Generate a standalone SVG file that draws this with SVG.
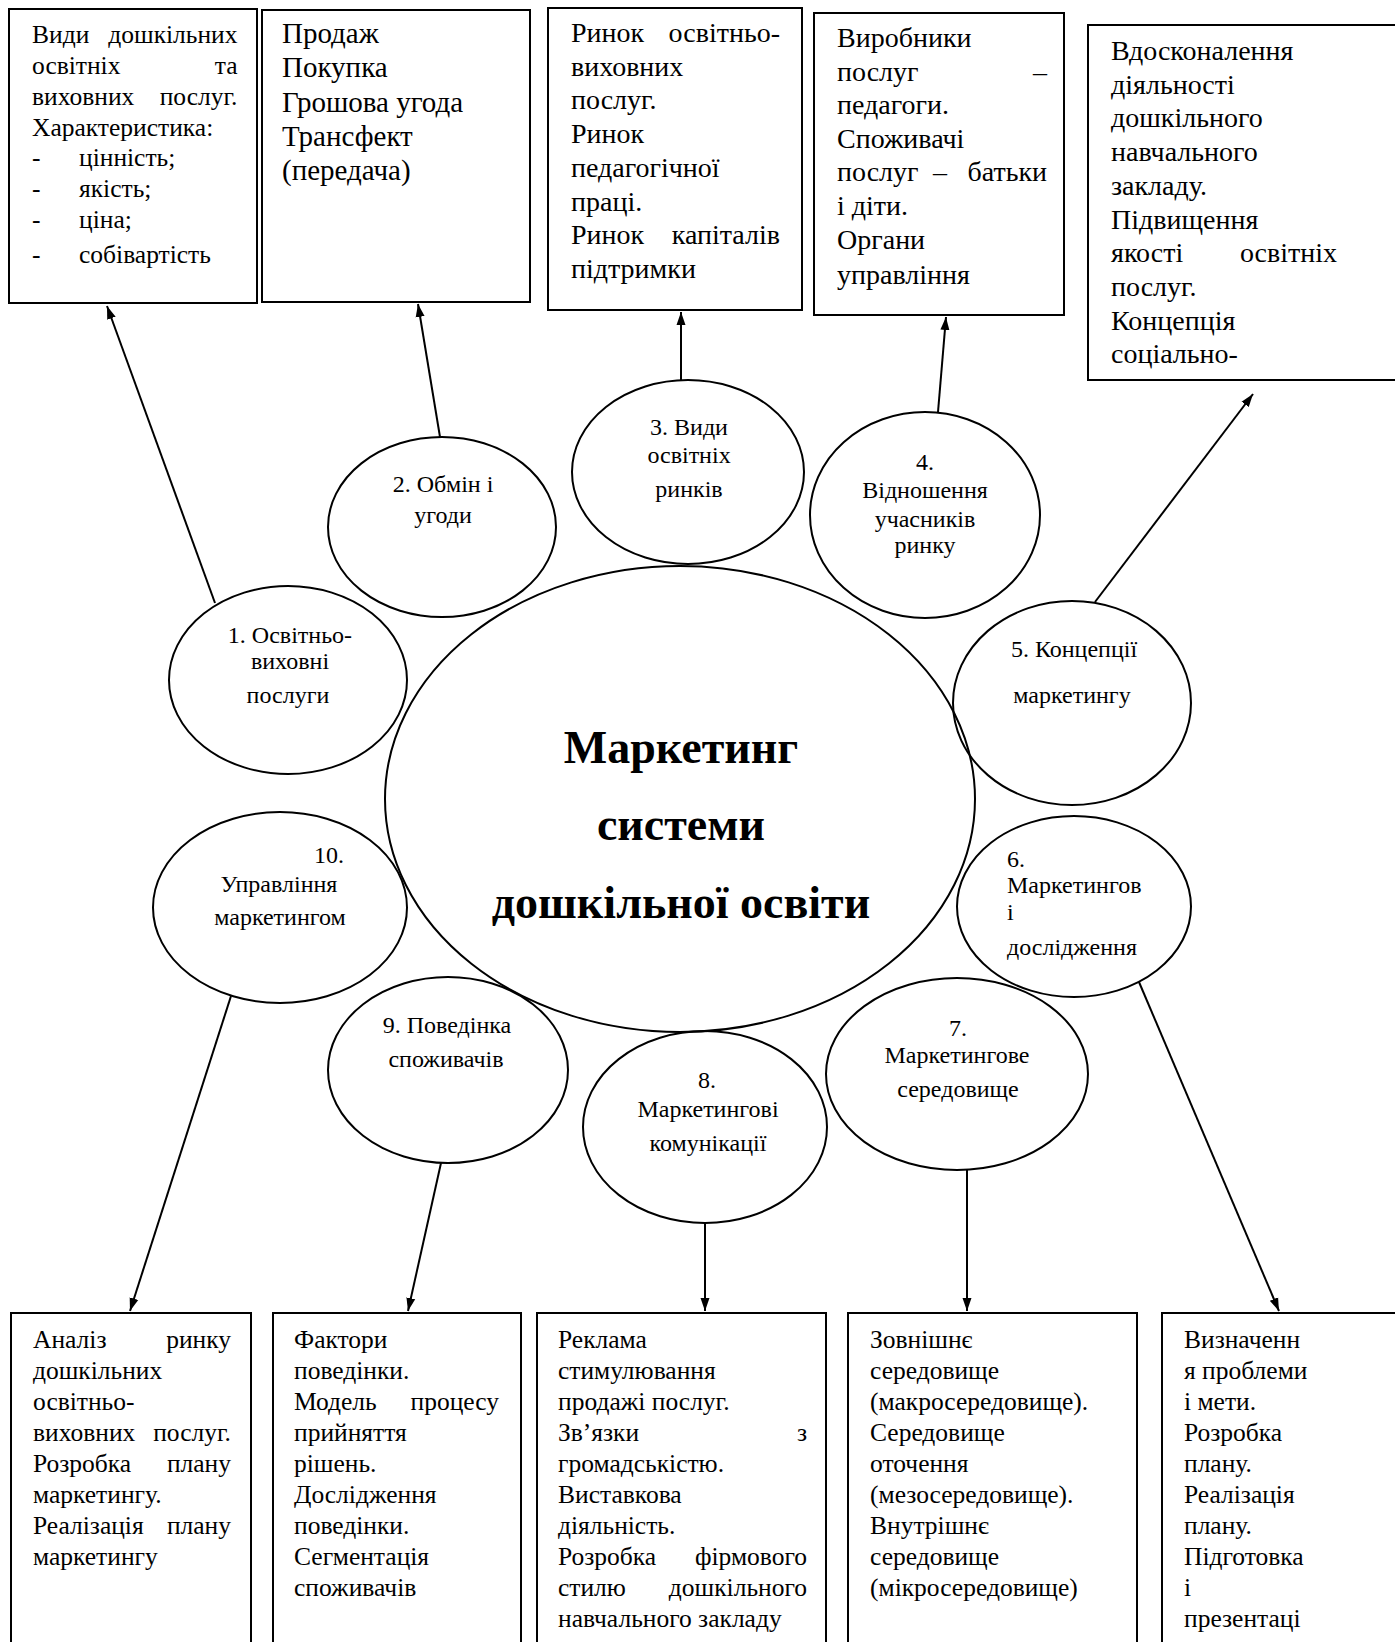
<svg xmlns="http://www.w3.org/2000/svg" width="1395" height="1642" viewBox="0 0 1395 1642">
<style>
text{font-family:"Liberation Serif","Times New Roman",serif;fill:#000}
.box{fill:#fff;stroke:#000;stroke-width:2}
.ell{fill:none;stroke:#000;stroke-width:2}
.s25{font-size:25.5px}
.s28{font-size:28px}
.s29{font-size:29px}
.lab{font-size:24px;text-anchor:middle}
.labl{font-size:24px}
.r{text-anchor:end}
.m{text-anchor:middle}
.big{font-size:46px;font-weight:bold;text-anchor:middle}
.con{stroke:#000;stroke-width:2;fill:none;marker-end:url(#ah)}
</style>
<defs>
<marker id="ah" markerUnits="userSpaceOnUse" markerWidth="14" markerHeight="10" refX="13" refY="5" orient="auto">
<path d="M0,0.5 L13,5 L0,9.5 z" fill="#000"/>
</marker>
</defs>
<rect width="1395" height="1642" fill="#fff"/>

<g id="box-1">
<rect class="box" x="9" y="9" width="248" height="294"/>
<g class="s25">
<text x="32" y="43">Види</text><text class="r" x="237.5" y="43">дошкільних</text>
<text x="32" y="74">освітніх</text><text class="r" x="237.5" y="74">та</text>
<text x="32" y="105">виховних</text><text class="r" x="237.5" y="105">послуг.</text>
<text x="32" y="136">Характеристика:</text>
<text x="32" y="166">-</text><text x="79" y="166">цінність;</text>
<text x="32" y="197">-</text><text x="79" y="197">якість;</text>
<text x="32" y="228">-</text><text x="79" y="228">ціна;</text>
<text x="32" y="263">-</text><text x="79" y="263">собівартість</text>
</g>
</g>

<g id="box-2">
<rect class="box" x="262" y="10" width="268" height="292"/>
<g class="s29">
<text x="282" y="43">Продаж</text>
<text x="282" y="77.3">Покупка</text>
<text x="282" y="111.6">Грошова угода</text>
<text x="282" y="146">Трансфект</text>
<text x="282" y="180.2">(передача)</text>
</g>
</g>

<g id="box-3">
<rect class="box" x="548" y="8" width="254" height="302"/>
<g class="s28">
<text x="571" y="42">Ринок</text><text class="r" x="780" y="42">освітньо-</text>
<text x="571" y="75.7">виховних</text>
<text x="571" y="109.4">послуг.</text>
<text x="571" y="143.1">Ринок</text>
<text x="571" y="176.8">педагогічної</text>
<text x="571" y="210.5">праці.</text>
<text x="571" y="244.2">Ринок</text><text class="r" x="780" y="244.2">капіталів</text>
<text x="571" y="277.9">підтримки</text>
</g>
</g>

<g id="box-4">
<rect class="box" x="814" y="13" width="250" height="302"/>
<g class="s28">
<text x="837" y="47">Виробники</text>
<text x="837" y="80.6">послуг</text><text class="r" x="1047" y="80.6">–</text>
<text x="837" y="114.2">педагоги.</text>
<text x="837" y="147.8">Споживачі</text>
<text x="837" y="181.4">послуг</text><text class="m" x="940" y="181.4">–</text><text class="r" x="1047" y="181.4">батьки</text>
<text x="837" y="215">і діти.</text>
<text x="837" y="248.6">Органи</text>
<text x="837" y="284">управління</text>
</g>
</g>

<g id="box-5">
<rect class="box" x="1088" y="25" width="320" height="355"/>
<g class="s28">
<text x="1111" y="60">Вдосконалення</text>
<text x="1111" y="93.7">діяльності</text>
<text x="1111" y="127.4">дошкільного</text>
<text x="1111" y="161.1">навчального</text>
<text x="1111" y="194.8">закладу.</text>
<text x="1111" y="228.5">Підвищення</text>
<text x="1111" y="262.2">якості</text><text class="r" x="1337" y="262.2">освітніх</text>
<text x="1111" y="295.9">послуг.</text>
<text x="1111" y="329.6">Концепція</text>
<text x="1111" y="363.3">соціально-</text>
</g>
</g>

<g id="box-10">
<rect class="box" x="11" y="1313" width="240" height="350"/>
<g class="s25">
<text x="33" y="1348">Аналіз</text><text class="r" x="231" y="1348">ринку</text>
<text x="33" y="1379">дошкільних</text>
<text x="33" y="1410">освітньо-</text>
<text x="33" y="1441">виховних</text><text class="r" x="231" y="1441">послуг.</text>
<text x="33" y="1472">Розробка</text><text class="r" x="231" y="1472">плану</text>
<text x="33" y="1503">маркетингу.</text>
<text x="33" y="1534">Реалізація</text><text class="r" x="231" y="1534">плану</text>
<text x="33" y="1565">маркетингу</text>
</g>
</g>

<g id="box-9">
<rect class="box" x="273" y="1313" width="248" height="350"/>
<g class="s25">
<text x="294" y="1348">Фактори</text>
<text x="294" y="1379">поведінки.</text>
<text x="294" y="1410">Модель</text><text class="r" x="499" y="1410">процесу</text>
<text x="294" y="1441">прийняття</text>
<text x="294" y="1472">рішень.</text>
<text x="294" y="1503">Дослідження</text>
<text x="294" y="1534">поведінки.</text>
<text x="294" y="1565">Сегментація</text>
<text x="294" y="1596">споживачів</text>
</g>
</g>

<g id="box-8">
<rect class="box" x="537" y="1313" width="289" height="350"/>
<g class="s25">
<text x="558" y="1348">Реклама</text>
<text x="558" y="1379">стимулювання</text>
<text x="558" y="1410">продажі послуг.</text>
<text x="558" y="1441">Зв’язки</text><text class="r" x="807" y="1441">з</text>
<text x="558" y="1472">громадськістю.</text>
<text x="558" y="1503">Виставкова</text>
<text x="558" y="1534">діяльність.</text>
<text x="558" y="1565">Розробка</text><text class="r" x="807" y="1565">фірмового</text>
<text x="558" y="1596">стилю</text><text class="r" x="807" y="1596">дошкільного</text>
<text x="558" y="1627">навчального закладу</text>
</g>
</g>

<g id="box-7">
<rect class="box" x="848" y="1313" width="289" height="350"/>
<g class="s25">
<text x="870" y="1348">Зовнішнє</text>
<text x="870" y="1379">середовище</text>
<text x="870" y="1410">(макросередовище).</text>
<text x="870" y="1441">Середовище</text>
<text x="870" y="1472">оточення</text>
<text x="870" y="1503">(мезосередовище).</text>
<text x="870" y="1534">Внутрішнє</text>
<text x="870" y="1565">середовище</text>
<text x="870" y="1596">(мікросередовище)</text>
</g>
</g>

<g id="box-6">
<rect class="box" x="1162" y="1313" width="250" height="350"/>
<g class="s25">
<text x="1184" y="1348">Визначенн</text>
<text x="1184" y="1379">я проблеми</text>
<text x="1184" y="1410">і мети.</text>
<text x="1184" y="1441">Розробка</text>
<text x="1184" y="1472">плану.</text>
<text x="1184" y="1503">Реалізація</text>
<text x="1184" y="1534">плану.</text>
<text x="1184" y="1565">Підготовка</text>
<text x="1184" y="1596">і</text>
<text x="1184" y="1627">презентаці</text>
</g>
</g>

<g id="center">
<ellipse class="ell" cx="680" cy="799" rx="295" ry="233"/>
<text class="big" x="681" y="763">Маркетинг</text>
<text class="big" x="681" y="840">системи</text>
<text class="big" x="681" y="918">дошкільної освіти</text>
</g>

<g id="node-1">
<ellipse class="ell" cx="288" cy="680" rx="119" ry="94"/>
<text class="lab" x="290" y="643">1. Освітньо-</text>
<text class="lab" x="290" y="669">виховні</text>
<text class="lab" x="288" y="703">послуги</text>
</g>
<g id="node-2">
<ellipse class="ell" cx="442" cy="527" rx="114" ry="90"/>
<text class="lab" x="443" y="492">2. Обмін і</text>
<text class="lab" x="443" y="523">угоди</text>
</g>
<g id="node-3">
<ellipse class="ell" cx="688" cy="472" rx="116" ry="92"/>
<text class="lab" x="689" y="435">3. Види</text>
<text class="lab" x="689" y="463">освітніх</text>
<text class="lab" x="689" y="497">ринків</text>
</g>
<g id="node-4">
<ellipse class="ell" cx="925" cy="515" rx="115" ry="103"/>
<text class="lab" x="925" y="470">4.</text>
<text class="lab" x="925" y="498">Відношення</text>
<text class="lab" x="925" y="527">учасників</text>
<text class="lab" x="925" y="553">ринку</text>
</g>
<g id="node-5">
<ellipse class="ell" cx="1072" cy="703" rx="119" ry="102"/>
<text class="lab" x="1074" y="657">5. Концепції</text>
<text class="lab" x="1072" y="703">маркетингу</text>
</g>
<g id="node-6">
<ellipse class="ell" cx="1074" cy="906.5" rx="117" ry="90.5"/>
<text class="labl" x="1007" y="867">6.</text>
<text class="labl" x="1007" y="893">Маркетингов</text>
<text class="labl" x="1007" y="920">і</text>
<text class="labl" x="1007" y="955">дослідження</text>
</g>
<g id="node-7">
<ellipse class="ell" cx="957" cy="1074" rx="131" ry="96"/>
<text class="lab" x="958" y="1036">7.</text>
<text class="lab" x="957" y="1063">Маркетингове</text>
<text class="lab" x="958" y="1097">середовище</text>
</g>
<g id="node-8">
<ellipse class="ell" cx="705" cy="1127" rx="122" ry="96"/>
<text class="lab" x="707" y="1088">8.</text>
<text class="lab" x="708" y="1117">Маркетингові</text>
<text class="lab" x="708" y="1151">комунікації</text>
</g>
<g id="node-9">
<ellipse class="ell" cx="448" cy="1070" rx="120" ry="93"/>
<text class="lab" x="447" y="1033">9. Поведінка</text>
<text class="lab" x="446" y="1067">споживачів</text>
</g>
<g id="node-10">
<ellipse class="ell" cx="280" cy="907.5" rx="127" ry="95.5"/>
<text class="lab" x="329" y="863">10.</text>
<text class="lab" x="279" y="892">Управління</text>
<text class="lab" x="280" y="925">маркетингом</text>
</g>

<g id="connectors">
<line class="con" x1="215" y1="603" x2="107" y2="306"/>
<line class="con" x1="440" y1="437" x2="418" y2="304"/>
<line class="con" x1="681" y1="380" x2="681" y2="312"/>
<line class="con" x1="938" y1="412" x2="946" y2="317"/>
<line class="con" x1="1095" y1="602" x2="1253" y2="394"/>
<line class="con" x1="1139" y1="982" x2="1279" y2="1311"/>
<line class="con" x1="967" y1="1170" x2="967" y2="1311"/>
<line class="con" x1="705" y1="1223" x2="705" y2="1311"/>
<line class="con" x1="441" y1="1163" x2="408" y2="1311"/>
<line class="con" x1="231" y1="996" x2="130" y2="1311"/>
</g>
</svg>
